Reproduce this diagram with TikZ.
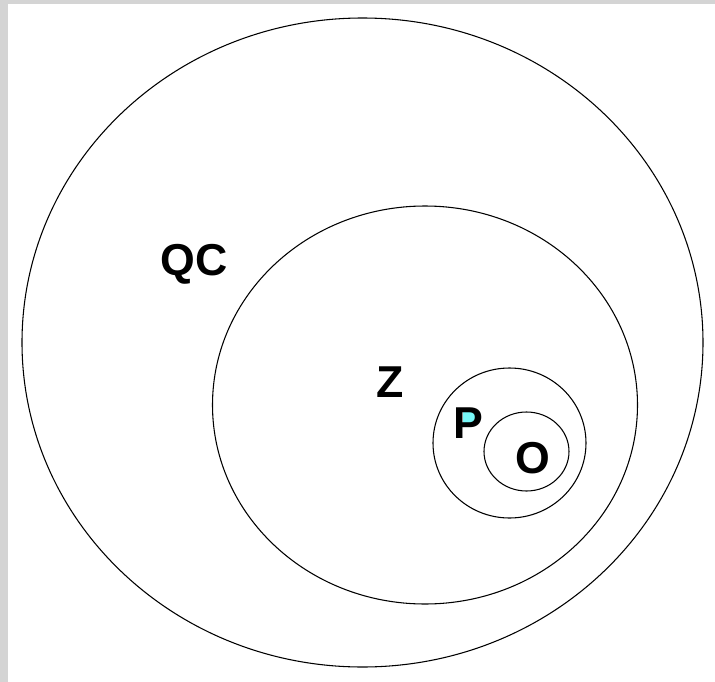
\documentclass[tikz,border=0pt]{standalone}
\usepackage{fontspec}
\setmainfont{Liberation Sans}
\definecolor{framegray}{HTML}{D4D4D4}
\definecolor{pcyan}{HTML}{78F8F8}
\begin{document}
\begin{tikzpicture}[x=0.75pt,y=-0.75pt,
  ring/.style={draw=black,line width=0.8pt},
  lbl/.style={font=\fontsize{33.5}{33.5}\selectfont\bfseries,inner sep=0pt}]
\useasboundingbox (0,0) rectangle (715,682);
\fill[framegray] (0,0) rectangle (8,682);
\fill[framegray] (0,0) rectangle (715,4);
\draw[ring] (362.5,342.5) ellipse [x radius=340.5, y radius=324.5];
\draw[ring] (425,405) ellipse [x radius=212.5, y radius=199];
\draw[ring] (509.5,443) ellipse [x radius=76.5, y radius=75];
\draw[ring] (526.5,451.5) ellipse [x radius=42.5, y radius=39.5];
\fill[pcyan] (463,411) -- (472,411) to[out=0,in=0,looseness=1.6] (472,424) -- (463,424) -- cycle;
\node[lbl] (qc) at (194,264) {QC};
\node[lbl] (z) at (390,382) {Z};
\node[lbl] (p) at (468,423) {P};
\node[lbl] (o) at (533,458) {O};
\end{tikzpicture}
\end{document}
